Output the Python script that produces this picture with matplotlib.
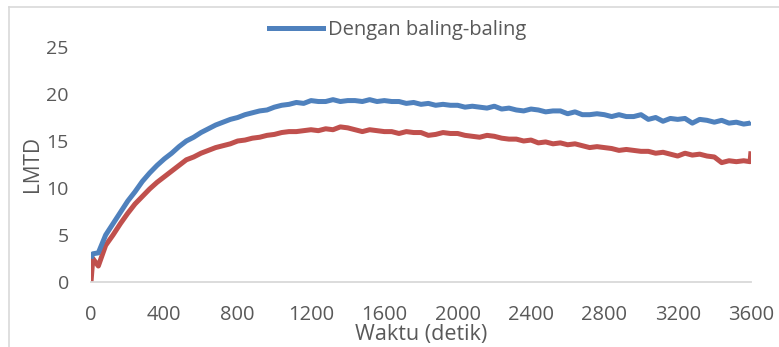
import matplotlib.pyplot as plt
from matplotlib.lines import Line2D

# waktu (detik)
waktu = [0, 10] + list(range(40, 3561, 40)) + [3595, 3600]

dengan_baling = [2.5, 3.0,
    3.1, 5.0, 6.2, 7.4, 8.6, 9.6, 10.7, 11.6, 12.4, 13.1,
    13.7, 14.4, 15.0, 15.4, 15.9, 16.3, 16.7, 17.0, 17.3, 17.5,
    17.8, 18.0, 18.2, 18.3, 18.6, 18.8, 18.9, 19.1, 19.0, 19.3,
    19.2, 19.2, 19.4, 19.2, 19.3, 19.3, 19.2, 19.4, 19.2, 19.3,
    19.2, 19.2, 19.0, 19.1, 18.9, 19.0, 18.8, 18.9, 18.8, 18.8,
    18.6, 18.7, 18.6, 18.5, 18.7, 18.4, 18.5, 18.3, 18.2, 18.4,
    18.3, 18.1, 18.2, 18.2, 17.9, 18.1, 17.8, 17.8, 17.9, 17.8,
    17.6, 17.8, 17.6, 17.6, 17.8, 17.3, 17.5, 17.1, 17.4, 17.3,
    17.4, 16.9, 17.3, 17.2, 17.0, 17.2, 16.9, 17.0, 16.8,
    16.9, 17.0]

tanpa_baling = [0.0, 2.5,
    1.7, 3.9, 5.0, 6.2, 7.3, 8.3, 9.1, 9.9, 10.6, 11.2,
    11.8, 12.4, 13.0, 13.3, 13.7, 14.0, 14.3, 14.5, 14.7, 15.0,
    15.1, 15.3, 15.4, 15.6, 15.7, 15.9, 16.0, 16.0, 16.1, 16.2,
    16.1, 16.3, 16.2, 16.5, 16.4, 16.2, 16.0, 16.2, 16.1, 16.0,
    16.0, 15.8, 16.0, 15.9, 15.9, 15.6, 15.7, 15.9, 15.8, 15.8,
    15.6, 15.5, 15.4, 15.6, 15.5, 15.3, 15.2, 15.2, 15.0, 15.1,
    14.8, 14.9, 14.7, 14.8, 14.6, 14.7, 14.5, 14.3, 14.4, 14.3,
    14.2, 14.0, 14.1, 14.0, 13.9, 13.9, 13.7, 13.8, 13.6, 13.4,
    13.7, 13.5, 13.6, 13.4, 13.3, 12.7, 12.9, 12.8, 12.9,
    12.8, 13.9]

xticks = list(range(0, 3601, 400))
yticks = [0, 5, 10, 15, 20, 25]

plt.rcParams['font.family'] = ['Open Sans', 'DejaVu Sans']
abu = '#595959'

fig = plt.figure(figsize=(7.79, 3.47), dpi=100)
ax = fig.add_axes([91/779, 1-282/347, 660/779, 235/347])

ax.plot(waktu, tanpa_baling, color='#C0504D', lw=3.6, solid_capstyle='butt')
ax.plot(waktu, dengan_baling, color='#4F81BD', lw=3.6, solid_capstyle='butt')

ax.set_xlim(0, 3600)
ax.set_ylim(0, 25)
ax.set_xticks(xticks)
ax.set_yticks(yticks)
ax.tick_params(length=0, colors=abu)
ax.tick_params(axis='y', pad=16, labelsize=14)
ax.tick_params(axis='x', pad=16.5, labelsize=14.5)
for s in ['top', 'right', 'left']:
    ax.spines[s].set_visible(False)
ax.spines['bottom'].set_color('#d9d9d9')
ax.spines['bottom'].set_linewidth(1.3)

ax.set_ylabel('LMTD', fontsize=15, color=abu, labelpad=2)
ax.set_xlabel('Waktu (detik)', fontsize=15.5, color=abu, labelpad=-0.5)

h = [Line2D([], [], color='#4F81BD', lw=3.6)]
fig.legend(h, ['Dengan baling-baling'], loc='center left',
           bbox_to_anchor=(251/779, 1-30/347), frameon=False,
           fontsize=14.5, labelcolor=abu, handlelength=2.7, handletextpad=0.2)

# bingkai grafik
fig.add_artist(Line2D([9/779, 1], [1-7/347, 1-7/347], color='#d9d9d9', lw=1.2))
fig.add_artist(Line2D([9/779, 9/779], [0, 1-7/347], color='#d9d9d9', lw=1.2))

fig.savefig('out.png', dpi=100)
